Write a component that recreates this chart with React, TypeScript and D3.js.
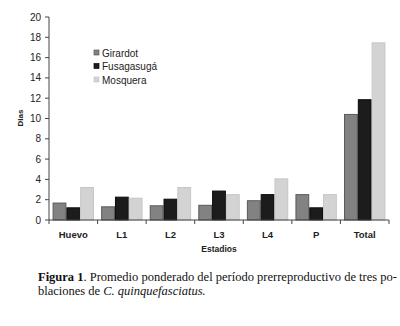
import React from "react";
import * as d3 from "d3";

const categories = ["Huevo", "L1", "L2", "L3", "L4", "P", "Total"];
const seriesNames = ["Girardot", "Fusagasugá", "Mosquera"];
const girardot = [1.67, 1.3, 1.4, 1.45, 1.9, 2.5, 10.4];
const fusagasuga = [1.2, 2.25, 2.05, 2.85, 2.5, 1.2, 11.85];
const mosquera = [3.2, 2.15, 3.2, 2.5, 4.05, 2.5, 17.45];
const yTicks = [0, 2, 4, 6, 8, 10, 12, 14, 16, 18, 20];

const fills = ["#828282", "#1c1c1c", "#d3d3d3"];
const strokes = ["#5a5a5a", "#0a0a0a", "#c6c6c6"];

export default function App() {
  const W = 400, H = 326;
  const x0 = 49, x1 = 389, yTop = 17, yBot = 220;
  const series = [girardot, fusagasuga, mosquera];
  const x = d3.scaleBand().domain(categories).range([x0, x1]).paddingInner(0).paddingOuter(0);
  const xs = d3.scaleBand().domain(seriesNames).range([0, x.bandwidth()]).paddingInner(0).paddingOuter(0.26);
  const y = d3.scaleLinear().domain([0, 20]).range([yBot, yTop]);
  const sans = "Arial, 'Liberation Sans', sans-serif";
  const serif = "'Times New Roman', 'Liberation Serif', serif";
  const boundaries = [...categories.map((c) => x(c)!), x1];
  return (
    <svg width={W} height={H} style={{ position: "absolute", left: 0, top: 0, background: "#fff" }}>
      <rect width={W} height={H} fill="#fff" />
      {series.map((vals, si) =>
        categories.map((c, ci) => (
          <rect
            key={`${si}-${ci}`}
            x={x(c)! + xs(seriesNames[si])! + 0.5}
            y={y(vals[ci])}
            width={xs.bandwidth() - 1}
            height={yBot - y(vals[ci])}
            fill={fills[si]}
            stroke={strokes[si]}
            strokeWidth={1}
          />
        ))
      )}
      {/* y axis */}
      <line x1={x0} x2={x0} y1={yTop} y2={yBot} stroke="#444" strokeWidth={1} />
      {yTicks.map((t) => (
        <g key={t}>
          <line x1={x0 - 4} x2={x0} y1={y(t)} y2={y(t)} stroke="#444" />
          <text x={x0 - 8} y={y(t)} dy="0.35em" textAnchor="end" fontFamily={sans} fontSize={10} fill="#222">
            {t}
          </text>
        </g>
      ))}
      {/* x axis */}
      <line x1={x0} x2={x1} y1={yBot} y2={yBot} stroke="#444" strokeWidth={1} />
      {boundaries.map((b, i) => (
        <line key={i} x1={b} x2={b} y1={yBot} y2={yBot + 4} stroke="#444" />
      ))}
      {categories.map((c) => (
        <text key={c} x={x(c)! + x.bandwidth() / 2} y={238} textAnchor="middle" fontFamily={sans} fontSize={9.5} fontWeight="bold" fill="#222">
          {c}
        </text>
      ))}
      <text x={(x0 + x1) / 2} y={252} textAnchor="middle" fontFamily={sans} fontSize={8.5} fontWeight="bold" fill="#222">
        Estadios
      </text>
      <text transform={`translate(23,118) rotate(-90)`} textAnchor="middle" fontFamily={sans} fontSize={8} fontWeight="bold" fill="#222">
        Dias
      </text>
      {/* legend */}
      {seriesNames.map((s, i) => (
        <g key={s}>
          <rect x={94} y={50 + i * 13.5} width={5} height={5} fill={fills[i]} stroke={strokes[i]} strokeWidth={0.7} />
          <text x={102} y={53 + i * 13.5} dy="0.35em" fontFamily={sans} fontSize={10} fill="#222">
            {s}
          </text>
        </g>
      ))}
      {/* caption */}
      <text x={38} y={281} fontFamily={serif} fontSize={12.5} fill="#111">
        <tspan fontWeight="bold">Figura 1</tspan>
        <tspan>. Promedio ponderado del período prerreproductivo de tres po-</tspan>
      </text>
      <text x={38} y={295} fontFamily={serif} fontSize={12.5} fill="#111">
        <tspan>blaciones de </tspan>
        <tspan fontStyle="italic">C. quinquefasciatus.</tspan>
      </text>
    </svg>
  );
}
